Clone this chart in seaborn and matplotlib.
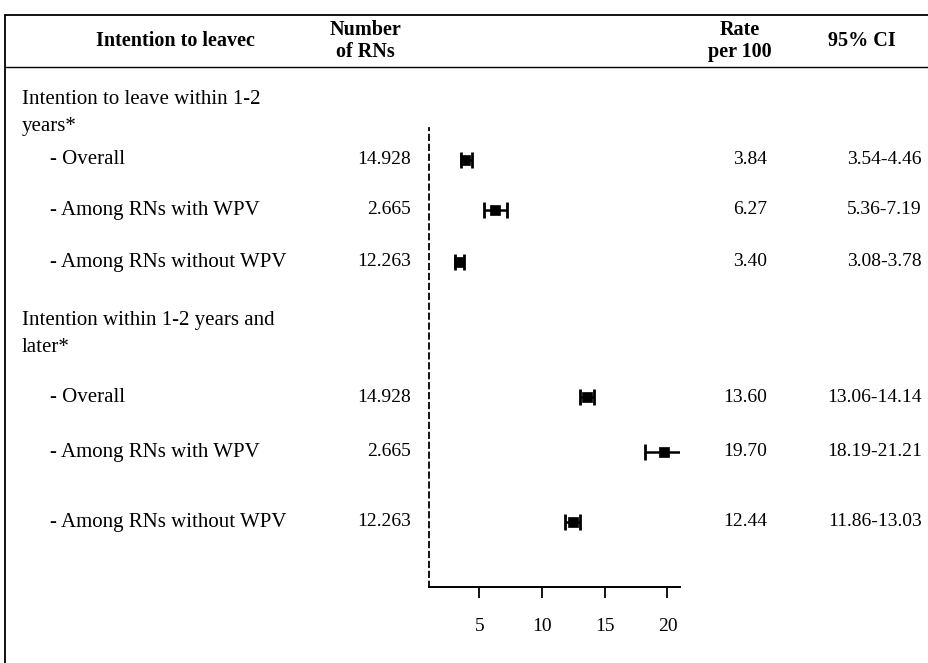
import pandas as pd
import matplotlib.pyplot as plt
import seaborn as sns

# table content
groups = ['Intention to leave within 1-2\nyears*', 'Intention within 1-2 years and\nlater*']
labels = ['- Overall', '- Among RNs with WPV', '- Among RNs without WPV',
          '- Overall', '- Among RNs with WPV', '- Among RNs without WPV']
n_rns = ['14.928', '2.665', '12.263', '14.928', '2.665', '12.263']
rate = [3.84, 6.27, 3.40, 13.60, 19.70, 12.44]
ci_low = [3.54, 5.36, 3.08, 13.06, 18.19, 11.86]
ci_high = [4.46, 7.19, 3.78, 14.14, 21.21, 13.03]
ci_text = ['3.54-4.46', '5.36-7.19', '3.08-3.78', '13.06-14.14', '18.19-21.21', '11.86-13.03']
xticks = [5, 10, 15, 20]

# layout (pixel rows of the scanned table)
row_y = [160, 210, 262, 397, 452, 522]
group_y = [113, 334]

df = pd.DataFrame({'label': labels, 'n': n_rns, 'rate': rate,
                   'lo': ci_low, 'hi': ci_high, 'ci': ci_text, 'y': row_y})

sns.set_style('white')
plt.rcParams['font.family'] = ['Liberation Serif', 'DejaVu Serif']
plt.rcParams['text.color'] = 'black'
plt.rcParams['xtick.color'] = 'black'
plt.rcParams['axes.edgecolor'] = 'black'

W, H = 929, 663
fig = plt.figure(figsize=(W / 100, H / 100), dpi=100)

# text layer in pixel coordinates
ax0 = fig.add_axes([0, 0, 1, 1])
ax0.set_xlim(0, W)
ax0.set_ylim(H, 0)
ax0.axis('off')

fs_lab = 15
fs_num = 14
fs_head = 14.5
ax0.plot([5, W], [15, 15], color='black', lw=1.3)
ax0.plot([5, W], [67, 67], color='black', lw=1.0)
ax0.plot([5, 5], [15, H], color='black', lw=1.3)

ax0.text(175, 41, 'Intention to leavec', ha='center', va='center', fontsize=fs_head, fontweight='bold')
ax0.text(365, 41, 'Number\nof RNs', ha='center', va='center', fontsize=fs_head, fontweight='bold',
         linespacing=1.1)
ax0.text(740, 41, 'Rate\nper 100', ha='center', va='center', fontsize=fs_head, fontweight='bold',
         linespacing=1.1)
ax0.text(862, 41, '95% CI', ha='center', va='center', fontsize=fs_head, fontweight='bold')

for g, gy in zip(groups, group_y):
    ax0.text(22, gy, g, ha='left', va='center', fontsize=fs_lab, linespacing=1.6)

for _, r in df.iterrows():
    ax0.text(50, r['y'], r['label'], ha='left', va='center', fontsize=fs_lab)
    ax0.text(411, r['y'], r['n'], ha='right', va='center', fontsize=fs_num)
    ax0.text(767, r['y'], f"{r['rate']:.2f}", ha='right', va='center', fontsize=fs_num)
    ax0.text(922, r['y'], r['ci'], ha='right', va='center', fontsize=fs_num)

# forest plot axes
x0, x1, ytop, ybot = 429, 680, 128, 587
ax = fig.add_axes([x0 / W, (H - ybot) / H, (x1 - x0) / W, (ybot - ytop) / H])
ax.patch.set_alpha(0)
ax.set_xlim(1, 21)
ax.set_ylim(ybot, ytop)

ax.errorbar(df['rate'], df['y'], xerr=[df['rate'] - df['lo'], df['hi'] - df['rate']],
            fmt='none', ecolor='black', elinewidth=1.8, capsize=5.5, capthick=2)
sns.scatterplot(data=df, x='rate', y='y', marker='s', s=50, color='black',
                edgecolor='black', linewidth=0.5, ax=ax, legend=False)

for side in ['top', 'right']:
    ax.spines[side].set_visible(False)
ax.spines['left'].set_linestyle((0, (3, 2.5)))
ax.spines['left'].set_linewidth(1.3)
ax.spines['bottom'].set_linewidth(1.4)
ax.set_yticks([])
ax.set_xticks(xticks)
ax.set_xticklabels([str(t) for t in xticks], fontsize=fs_num)
ax.tick_params(axis='x', direction='out', length=8, width=1.3, pad=14, bottom=True)
ax.set_xlabel('')
ax.set_ylabel('')

fig.savefig('out.png', dpi=100)
